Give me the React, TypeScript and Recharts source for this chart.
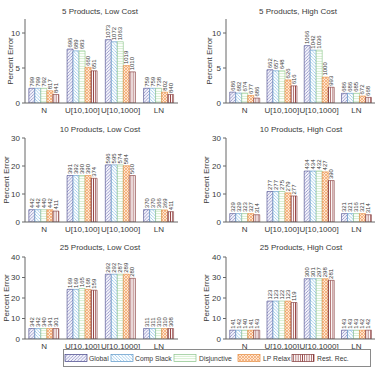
import React from 'react';
import { BarChart, Bar, XAxis, YAxis, LabelList } from 'recharts';

const categories = ['N', 'U[10,100]', 'U[10,1000]', 'LN'];
const methods = ['Global', 'Comp Slack', 'Disjunctive', 'LP Relax', 'Rest. Rec.'];
const panelTitles = [
  '5 Products, Low Cost',
  '5 Products, High Cost',
  '10 Products, Low Cost',
  '10 Products, High Cost',
  '25 Products, Low Cost',
  '25 Products, High Cost',
];

// Percent error per category (rows) and method (columns)
const err5Low = [
  [2.1, 2.1, 2.1, 1.75, 1.22],
  [7.7, 7.45, 7.45, 5.1, 4.6],
  [9.05, 8.75, 8.75, 5.35, 4.45],
  [2.1, 2.1, 2.1, 1.55, 1.22],
];
const err5High = [
  [1.55, 1.42, 1.42, 1.08, 0.7],
  [4.75, 4.6, 4.6, 3.3, 2.45],
  [8.2, 7.55, 7.55, 3.7, 2.25],
  [1.38, 1.38, 1.38, 1.0, 0.8],
];
const err10Low = [
  [4.4, 4.4, 4.4, 4.4, 3.9],
  [16.6, 16.6, 16.6, 16.6, 15.6],
  [20.4, 20.4, 20.4, 20.1, 16.6],
  [4.4, 4.4, 4.4, 4.3, 3.7],
];
const err10High = [
  [3.0, 3.0, 3.0, 3.0, 2.6],
  [10.9, 10.9, 10.9, 10.4, 9.3],
  [18.2, 18.2, 18.2, 17.9, 14.8],
  [3.0, 3.0, 3.0, 3.0, 2.6],
];
const err25Low = [
  [5.1, 5.1, 5.1, 5.1, 5.1],
  [24.2, 24.2, 24.6, 24.2, 23.8],
  [31.6, 31.6, 31.6, 31.6, 29.6],
  [5.1, 5.1, 5.1, 5.1, 5.1],
];
const err25High = [
  [4.3, 4.3, 4.3, 4.3, 4.3],
  [18.5, 18.5, 18.5, 18.5, 17.8],
  [29.4, 29.4, 29.4, 29.4, 28.6],
  [4.3, 4.3, 4.3, 4.3, 4.3],
];

// Instance counts printed above each bar
const count5Low = [
  ['799', '799', '792', '817', '841'],
  ['696', '689', '683', '660', '651'],
  ['1073', '1072', '1063', '1019', '1010'],
  ['759', '759', '738', '802', '840'],
];
const count5High = [
  ['686', '682', '674', '677', '686'],
  ['662', '657', '648', '626', '616'],
  ['1066', '1042', '1036', '1000', '993'],
  ['686', '686', '685', '672', '668'],
];
const count10Low = [
  ['442', '442', '440', '442', '411'],
  ['391', '392', '390', '390', '374'],
  ['596', '595', '574', '584', '560'],
  ['370', '370', '366', '369', '411'],
];
const count10High = [
  ['329', '329', '323', '327', '314'],
  ['277', '277', '275', '279', '277'],
  ['434', '434', '432', '427', '390'],
  ['321', '321', '316', '321', '314'],
];
const count25Low = [
  ['342', '342', '340', '341', '301'],
  ['169', '169', '165', '168', '159'],
  ['292', '292', '287', '289', '280'],
  ['311', '311', '310', '310', '308'],
];
const count25High = [
  ['141', '142', '140', '141', '143'],
  ['123', '123', '122', '123', '119'],
  ['300', '301', '297', '298', '281'],
  ['143', '143', '143', '142', '142'],
];

const yMax = [12, 12, 30, 30, 40, 40];
const yTicks = [
  [0, 5, 10],
  [0, 5, 10],
  [0, 10, 20, 30],
  [0, 10, 20, 30],
  [0, 10, 20, 30, 40],
  [0, 10, 20, 30, 40],
];

const panelErrors = [err5Low, err5High, err10Low, err10High, err25Low, err25High];
const panelCounts = [count5Low, count5High, count10Low, count10High, count25Low, count25High];

// Placement of each small chart on the page
const frames = [
  { left: 0, top: 0, width: 178, height: 123, mt: 19, yw: 25, titleX: 100, titleY: 11, ylabX: 10 },
  { left: 191, top: 0, width: 184, height: 123, mt: 19, yw: 35, titleX: 298, titleY: 11, ylabX: 209 },
  { left: 0, top: 115, width: 178, height: 127, mt: 23, yw: 25, titleX: 100, titleY: 129, ylabX: 6 },
  { left: 191, top: 115, width: 184, height: 127, mt: 23, yw: 35, titleX: 301, titleY: 129, ylabX: 206 },
  { left: 0, top: 232, width: 178, height: 127, mt: 25, yw: 25, titleX: 100, titleY: 247, ylabX: 6 },
  { left: 191, top: 232, width: 184, height: 127, mt: 25, yw: 35, titleX: 301, titleY: 247, ylabX: 206 },
];

const strokes = ['#444488', '#5a96c8', '#8cc48c', '#e48c40', '#7e3434'];
const FONT = '"Liberation Sans", Arial, Helvetica, sans-serif';
const TEXT = '#3a3a3a';
const AXIS = '#666666';
const X_AXIS_H = 20;

const buildRows = (errs: number[][], counts: string[][]) =>
  categories.map((cat, ci) => {
    const row: Record<string, any> = { cat };
    methods.forEach((_, mi) => {
      row['m' + mi] = errs[ci][mi];
      row['c' + mi] = counts[ci][mi];
    });
    return row;
  });

const renderCount = (props: any) => {
  const { x, y, width, value } = props;
  const cx = Number(x) + Number(width) / 2;
  const by = Number(y) - 1.5;
  return (
    <text
      x={cx}
      y={by}
      transform={`rotate(-90 ${cx} ${by})`}
      fontSize={6}
      fontFamily={FONT}
      fill={TEXT}
      textAnchor="start"
      dominantBaseline="central"
    >
      {value}
    </text>
  );
};

function Patterns() {
  return (
    <defs>
      <pattern id="pat0" width="3.2" height="3.2" patternUnits="userSpaceOnUse">
        <rect width="3.2" height="3.2" fill="#f4f4fb" />
        <path d="M-0.8,0.8 l1.6,-1.6 M0,3.2 l3.2,-3.2 M2.4,4 l1.6,-1.6" stroke="#7474b8" strokeWidth="0.65" />
      </pattern>
      <pattern id="pat1" width="3.2" height="3.2" patternUnits="userSpaceOnUse">
        <rect width="3.2" height="3.2" fill="#ffffff" />
        <path d="M-0.8,2.4 l1.6,1.6 M0,0 l3.2,3.2 M2.4,-0.8 l1.6,1.6" stroke="#82bce6" strokeWidth="0.7" />
      </pattern>
      <pattern id="pat2" width="3" height="2.5" patternUnits="userSpaceOnUse">
        <rect width="3" height="2.5" fill="#ffffff" />
        <path d="M0,1.25 h3" stroke="#c4e8bc" strokeWidth="0.8" />
      </pattern>
      <pattern id="pat3" width="3" height="3" patternUnits="userSpaceOnUse">
        <rect width="3" height="3" fill="#fde6d2" />
        <path d="M-1,1 l2,-2 M0,3 l3,-3 M2,4 l2,-2 M-1,2 l2,2 M0,0 l3,3 M2,-1 l2,2" stroke="#f3a264" strokeWidth="0.7" />
      </pattern>
      <pattern id="pat4" width="2.2" height="3" patternUnits="userSpaceOnUse">
        <rect width="2.2" height="3" fill="#ffffff" />
        <path d="M1.1,0 v3" stroke="#9a4848" strokeWidth="0.8" />
      </pattern>
    </defs>
  );
}

function Panel({ index }: { index: number }) {
  const f = frames[index];
  const rows = buildRows(panelErrors[index], panelCounts[index]);
  return (
    <div style={{ position: 'absolute', left: f.left, top: f.top }}>
      <BarChart
        width={f.width}
        height={f.height}
        data={rows}
        margin={{ top: f.mt, right: 0, bottom: 0, left: 0 }}
        barCategoryGap="10%"
        barGap={0}
      >
        <XAxis
          dataKey="cat"
          interval={0}
          tickLine={false}
          tickSize={2}
          height={X_AXIS_H}
          axisLine={{ stroke: AXIS }}
          tick={{ fontSize: 8, fill: TEXT, fontFamily: FONT }}
        />
        <YAxis
          type="number"
          width={f.yw}
          domain={[0, yMax[index]]}
          ticks={yTicks[index]}
          allowDataOverflow
          tickSize={3}
          tickLine={{ stroke: AXIS }}
          axisLine={{ stroke: AXIS }}
          tick={{ fontSize: 8, fill: TEXT, fontFamily: FONT }}
        />
        {methods.map((name, mi) => (
          <Bar
            key={name}
            name={name}
            dataKey={'m' + mi}
            fill={`url(#pat${mi})`}
            stroke={strokes[mi]}
            strokeWidth={0.6}
            isAnimationActive={false}
          >
            <LabelList dataKey={'c' + mi} content={renderCount} />
          </Bar>
        ))}
      </BarChart>
    </div>
  );
}

const legendSwatchX = [65, 111, 174, 238, 292];
const legendTextX = [89, 135, 199, 263, 317];

export default function App() {
  return (
    <div
      style={{
        position: 'absolute',
        left: 0,
        top: 0,
        width: 382,
        height: 376,
        background: '#ffffff',
        fontFamily: FONT,
        overflow: 'hidden',
      }}
    >
      <svg width={382} height={376} style={{ position: 'absolute', left: 0, top: 0 }}>
        <Patterns />
        {frames.map((f, i) => {
          const cy = f.top + f.mt + (f.height - f.mt - X_AXIS_H) / 2;
          return (
            <g key={i}>
              <text
                x={f.titleX}
                y={f.titleY}
                fontSize={8}
                fill={TEXT}
                textAnchor="middle"
                dominantBaseline="central"
                fontFamily={FONT}
              >
                {panelTitles[i]}
              </text>
              <text
                x={f.ylabX}
                y={cy}
                transform={`rotate(-90 ${f.ylabX} ${cy})`}
                fontSize={8}
                fill={TEXT}
                textAnchor="middle"
                dominantBaseline="central"
                fontFamily={FONT}
              >
                Percent Error
              </text>
            </g>
          );
        })}
      </svg>
      {frames.map((_, i) => (
        <Panel key={i} index={i} />
      ))}
      <svg width={382} height={376} style={{ position: 'absolute', left: 0, top: 0, pointerEvents: 'none' }}>
        <rect x={63.5} y={349.5} width={307} height={17} fill="#ffffff" stroke="#8a8a8a" strokeWidth={1} />
        {methods.map((name, mi) => (
          <g key={name}>
            <rect
              x={legendSwatchX[mi]}
              y={354.5}
              width={22}
              height={7}
              fill={`url(#pat${mi})`}
              stroke={strokes[mi]}
              strokeWidth={0.7}
            />
            <text
              x={legendTextX[mi]}
              y={358.2}
              fontSize={6.8}
              fill={TEXT}
              dominantBaseline="central"
              fontFamily={FONT}
            >
              {name}
            </text>
          </g>
        ))}
      </svg>
    </div>
  );
}
